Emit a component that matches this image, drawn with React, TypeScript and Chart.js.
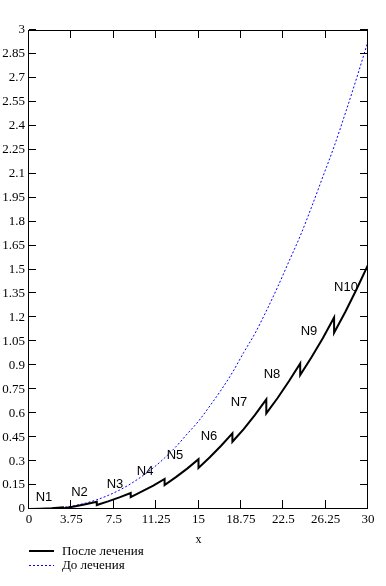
import { useEffect, useRef } from "react";
import { Chart, registerables } from "chart.js";

Chart.register(...registerables);

const xTicks = [0, 3.75, 7.5, 11.25, 15, 18.75, 22.5, 26.25, 30];
const xTickLabels = ["0", "3.75", "7.5", "11.25", "15", "18.75", "22.5", "26.25", "30"];
const yTicks = [0, 0.15, 0.3, 0.45, 0.6, 0.75, 0.9, 1.05, 1.2, 1.35, 1.5, 1.65, 1.8, 1.95, 2.1, 2.25, 2.4, 2.55, 2.7, 2.85, 3];
const yTickLabels = ["0", "0.15", "0.3", "0.45", "0.6", "0.75", "0.9", "1.05", "1.2", "1.35", "1.5", "1.65", "1.8", "1.95", "2.1", "2.25", "2.4", "2.55", "2.7", "2.85", "3"];

// "До лечения" (before treatment)
const beforeX = [0, 1, 2, 3, 4, 5, 6, 7, 8, 9, 10, 11, 12, 13, 14, 15, 16, 17, 18, 19, 20, 21, 22, 23, 24, 25, 26, 27, 28, 29, 30];
const beforeY = [0, 0.001, 0.004, 0.01, 0.021, 0.037, 0.058, 0.085, 0.118, 0.158, 0.205, 0.258, 0.32, 0.39, 0.47, 0.55, 0.645, 0.745, 0.855, 0.98, 1.1, 1.24, 1.39, 1.55, 1.71, 1.89, 2.08, 2.27, 2.48, 2.7, 2.93];

// "После лечения" (after treatment) — drops at every 3 units
const afterX = [0, 1, 2, 3, 3, 4, 5, 6, 6, 7, 8, 9, 9, 10, 11, 12, 12, 13, 14, 15, 15, 16, 17, 18, 18, 19, 20, 21, 21, 22, 23, 24, 24, 25, 26, 27, 27, 28, 29, 30];
const afterY = [0, 0.002, 0.005, 0.01, 0.004, 0.016, 0.03, 0.046, 0.025, 0.048, 0.073, 0.1, 0.075, 0.11, 0.147, 0.188, 0.15, 0.2, 0.253, 0.312, 0.257, 0.324, 0.396, 0.474, 0.421, 0.5, 0.59, 0.687, 0.599, 0.695, 0.8, 0.912, 0.839, 0.95, 1.07, 1.2, 1.104, 1.235, 1.378, 1.528];

const noteText = ["N1", "N2", "N3", "N4", "N5", "N6", "N7", "N8", "N9", "N10"];
const noteX = [1.33, 4.47, 7.61, 10.27, 12.92, 15.93, 18.58, 21.5, 24.78, 28.05];
const noteY = [0.075, 0.106, 0.156, 0.238, 0.338, 0.457, 0.67, 0.845, 1.115, 1.39];

const seriesNames = ["После лечения", "До лечения"];
const xTitle = "x";

const SERIF = '"Liberation Serif", "Times New Roman", serif';
const SANS = '"Liberation Sans", Arial, sans-serif';

const overlay = {
  id: "overlay",
  afterDraw(chart: any) {
    const ctx = chart.ctx;
    const { left, right, top, bottom } = chart.chartArea;
    const xs = chart.scales.x;
    const ys = chart.scales.y;
    ctx.save();
    ctx.strokeStyle = "#000";
    ctx.lineWidth = 1;
    // frame
    ctx.beginPath();
    ctx.rect(Math.round(left) - 0.5, Math.round(top) + 0.5, Math.round(right - left), Math.round(bottom - top) - 1);
    ctx.stroke();
    // ticks
    ctx.beginPath();
    for (const v of xTicks) {
      const px = Math.round(xs.getPixelForValue(v)) - 0.5;
      ctx.moveTo(px, bottom);
      ctx.lineTo(px, bottom - 9);
      ctx.moveTo(px, top);
      ctx.lineTo(px, top + 8);
    }
    for (const v of yTicks) {
      const py = Math.round(ys.getPixelForValue(v)) - 0.5;
      ctx.moveTo(left, py);
      ctx.lineTo(left + 7, py);
      ctx.moveTo(right, py);
      ctx.lineTo(right - 8, py);
    }
    ctx.stroke();
    // N labels
    ctx.fillStyle = "#000";
    ctx.font = "13px " + SANS;
    ctx.textAlign = "center";
    ctx.textBaseline = "middle";
    noteText.forEach((t, i) => {
      ctx.fillText(t, xs.getPixelForValue(noteX[i]), ys.getPixelForValue(noteY[i]));
    });
    // x title
    ctx.font = "12px " + SERIF;
    ctx.fillText(xTitle, (left + right) / 2, 540);
    // legend
    ctx.textAlign = "left";
    ctx.font = "13px " + SERIF;
    ctx.lineWidth = 2;
    ctx.strokeStyle = "#000";
    ctx.beginPath();
    ctx.moveTo(29, 551);
    ctx.lineTo(54, 551);
    ctx.stroke();
    ctx.fillText(seriesNames[0], 62, 552);
    ctx.lineWidth = 1;
    ctx.strokeStyle = "#0000ff";
    ctx.setLineDash([2, 2]);
    ctx.beginPath();
    ctx.moveTo(29, 565.5);
    ctx.lineTo(54, 565.5);
    ctx.stroke();
    ctx.setLineDash([]);
    ctx.fillText(seriesNames[1], 62, 566);
    ctx.restore();
  },
};

export default function App() {
  const ref = useRef<HTMLCanvasElement | null>(null);
  useEffect(() => {
    if (!ref.current) return;
    const chart = new Chart(ref.current, {
      type: "scatter",
      data: {
        datasets: [
          {
            label: seriesNames[0],
            data: afterX.map((x, i) => ({ x, y: afterY[i] })),
            showLine: true,
            borderColor: "#000",
            borderWidth: 2,
            pointRadius: 0,
            tension: 0,
          },
          {
            label: seriesNames[1],
            data: beforeX.map((x, i) => ({ x, y: beforeY[i] })),
            showLine: true,
            borderColor: "#0000ff",
            borderWidth: 1,
            borderDash: [2, 2],
            pointRadius: 0,
            cubicInterpolationMode: "monotone",
          },
        ],
      },
      options: {
        animation: false,
        responsive: false,
        maintainAspectRatio: false,
        layout: { padding: { top: 30, right: 18, left: 0, bottom: 0 } },
        plugins: { legend: { display: false }, tooltip: { enabled: false } },
        scales: {
          x: {
            type: "linear",
            min: 0,
            max: 30,
            grid: { display: false, drawTicks: false },
            border: { display: false },
            afterBuildTicks: (s: any) => {
              s.ticks = xTicks.map((v) => ({ value: v }));
            },
            afterFit: (s: any) => {
              s.height = 77;
            },
            ticks: {
              padding: 3,
              color: "#000",
              font: { family: SERIF, size: 13 },
              maxRotation: 0,
              autoSkip: false,
              callback: (_v: any, i: number) => xTickLabels[i],
            },
          },
          y: {
            type: "linear",
            min: 0,
            max: 3,
            grid: { display: false, drawTicks: false },
            border: { display: false },
            afterBuildTicks: (s: any) => {
              s.ticks = yTicks.map((v) => ({ value: v }));
            },
            afterFit: (s: any) => {
              s.width = 29;
            },
            ticks: {
              padding: 4,
              color: "#000",
              font: { family: SERIF, size: 13 },
              autoSkip: false,
              callback: (_v: any, i: number) => yTickLabels[i],
            },
          },
        },
      },
      plugins: [overlay],
    } as any);
    return () => chart.destroy();
  }, []);
  return (
    <div style={{ position: "fixed", left: 0, top: 0, width: 386, height: 586, background: "#fff" }}>
      <canvas ref={ref} width={386} height={586} style={{ width: 386, height: 586, display: "block" }} />
    </div>
  );
}
